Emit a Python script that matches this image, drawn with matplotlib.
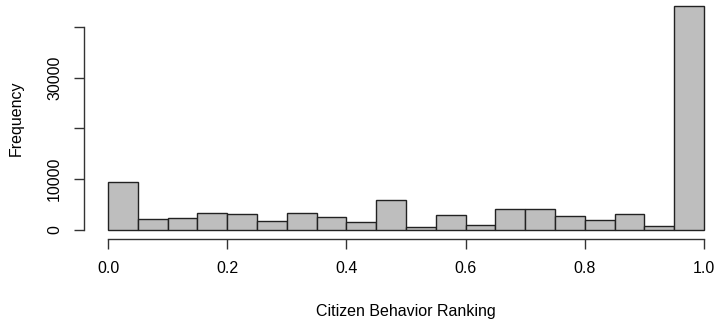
import numpy as np
import matplotlib
matplotlib.use('Agg')
import matplotlib.pyplot as plt

plt.rcParams['font.family'] = ['Liberation Sans', 'DejaVu Sans']

# histogram counts, bins of width 0.05 from 0 to 1
breaks = np.round(np.arange(0, 1.0001, 0.05), 2)
counts = [9350, 2170, 2370, 3230, 3040, 1650, 3350, 2560, 1520, 5920,
          450, 2840, 990, 4140, 4160, 2640, 1850, 3040, 790, 44060]
xticks = [0.0, 0.2, 0.4, 0.6, 0.8, 1.0]
xticklabels = ['0.0', '0.2', '0.4', '0.6', '0.8', '1.0']
yticks = [0, 10000, 20000, 30000, 40000]
yticklabels = ['0', '10000', '', '30000', '']

fig = plt.figure(figsize=(7.15, 3.22), dpi=100)
ax = fig.add_axes([0.1178, 0.259, 0.9002, 0.749])

ax.bar(breaks[:-1], counts, width=0.05, align='edge',
       color='#BEBEBE', edgecolor='#222222', linewidth=1.0)

ymax = max(counts)
ax.set_xlim(-0.04, 1.04)
ax.set_ylim(-0.04 * ymax, 1.04 * ymax)

for s in ['top', 'right']:
    ax.spines[s].set_visible(False)
ax.spines['bottom'].set_bounds(0, 1)
ax.spines['left'].set_bounds(0, 40000)
for s in ['bottom', 'left']:
    ax.spines[s].set_color('#333333')
    ax.spines[s].set_linewidth(1.0)

ax.set_xticks(xticks)
ax.set_xticklabels(xticklabels)
ax.set_yticks(yticks)
ax.set_yticklabels(yticklabels, rotation=90, va='center')
ax.tick_params(axis='both', length=7, width=1.0, color='#333333',
               labelsize=11.5, pad=9)

ax.set_xlabel('Citizen Behavior Ranking', fontsize=11.5, labelpad=20)
ax.set_ylabel('Frequency', fontsize=11.5, labelpad=17)

fig.savefig('out.png', dpi=100)
